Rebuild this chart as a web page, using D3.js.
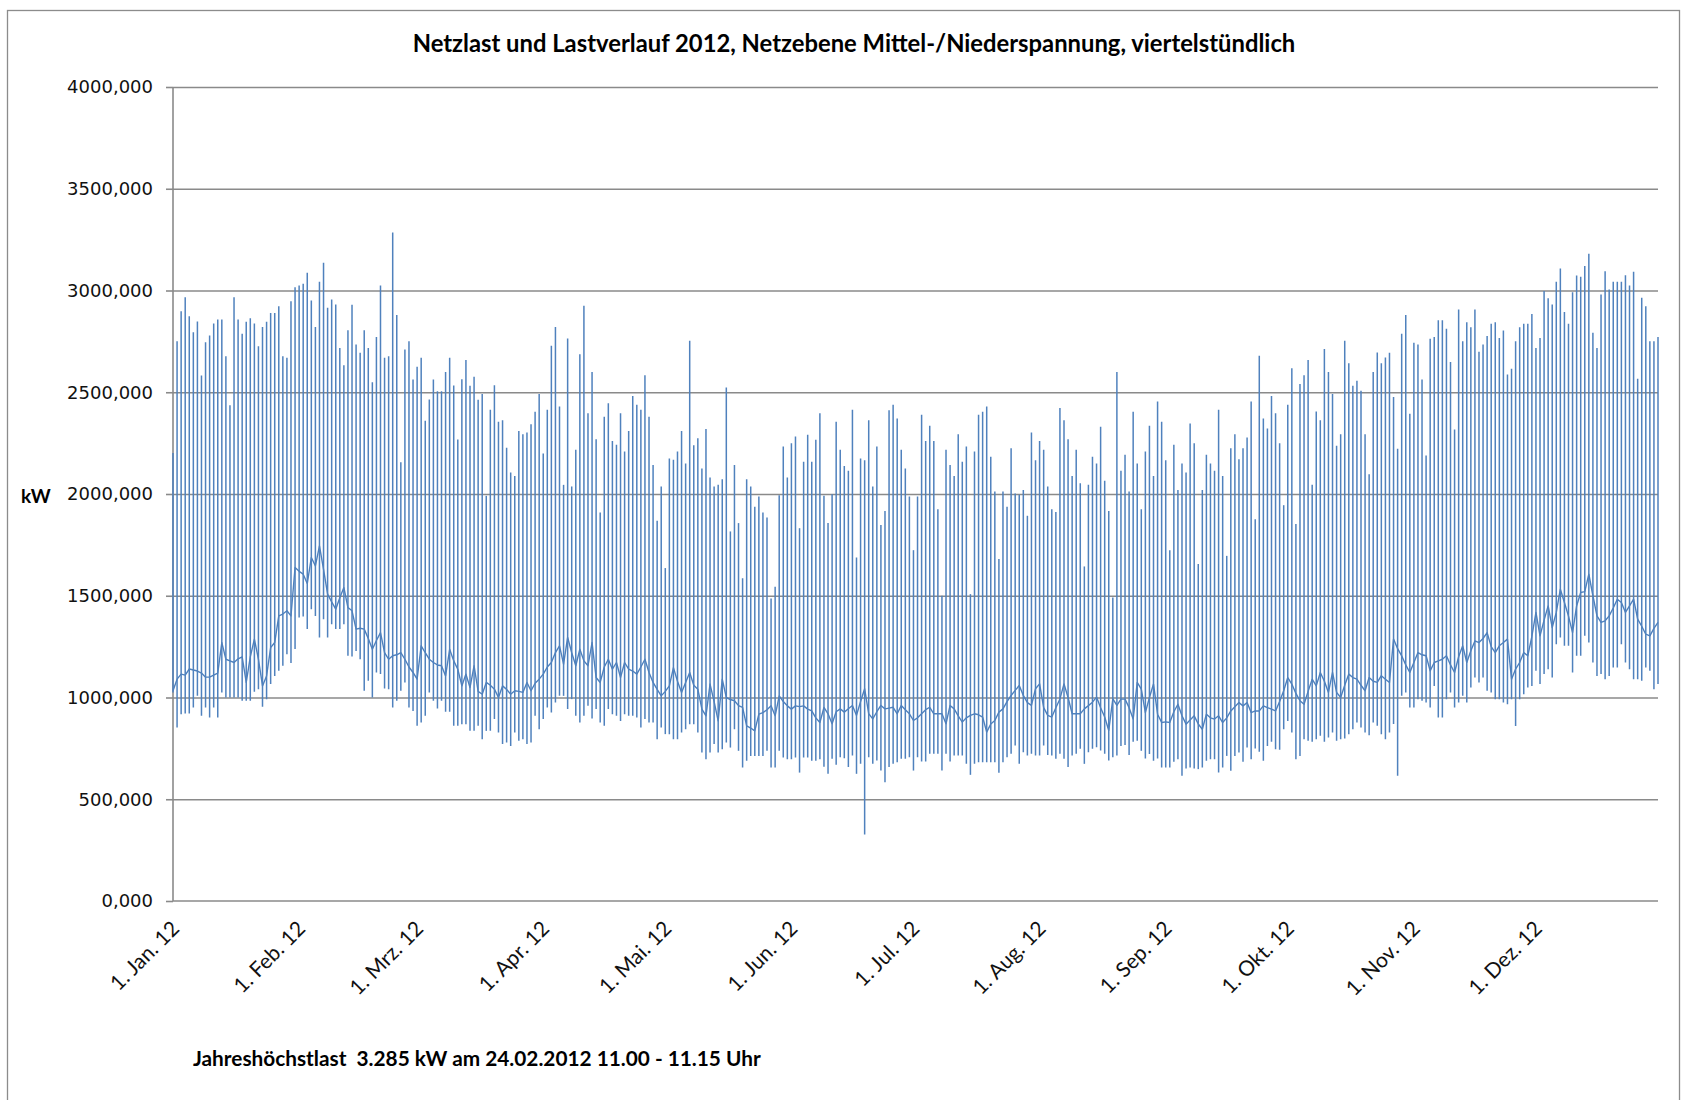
<!DOCTYPE html>
<html>
<head>
<meta charset="utf-8">
<script src="https://cdn.jsdelivr.net/npm/d3@7"></script>
<style>
  html, body { margin: 0; padding: 0; background: #ffffff; }
  svg { display: block; }
</style>
</head>
<body>
<svg id="chart" width="1686" height="1100"></svg>
<script>
// Netzlast 2012 – daily summary of the quarter-hourly load (kW)
// dailyPeak: highest quarter-hour of the day, dailyLow: lowest,
// nightLoad: level at midnight that links one day to the next.
const dailyPeak = [
  2202,2751,2898,2967,2874,2795,2848,2582,2746,2779,2838,2857,2857,2677,2436,2967,2857,2787,2846,2864,
  2838,2726,2821,2846,2890,2890,2923,2677,2669,2947,3016,3024,3033,3087,2951,2821,3043,3136,2915,2956,
  2931,2718,2633,2805,2930,2735,2694,2805,2718,2549,2771,3024,2669,2677,3285,2879,2156,2710,2751,2563,
  2625,2669,2360,2464,2563,2505,2505,2599,2669,2533,2268,2564,2659,2532,2576,2463,2491,1991,2414,2535,
  2355,2363,2227,2106,2089,2310,2294,2302,2343,2404,2491,2199,2414,2728,2821,2430,2045,2764,2037,2217,
  2687,2925,2397,2600,2269,1909,2379,2446,2261,2242,2397,2209,2310,2482,2438,2414,2584,2379,2142,1868,
  2037,1636,2174,2168,2209,2310,2150,2753,2240,2274,2125,2319,2081,2037,2045,2073,2523,1816,2142,1857,
  1586,2073,2037,1937,1988,1909,1885,1487,1544,1994,2233,2081,2250,2283,1832,2158,2291,2158,2266,2397,
  1991,1857,1999,2355,2217,2138,2114,2414,1688,2174,2166,2363,2037,2233,1848,1917,2412,2438,2371,2217,
  2125,1988,1724,1988,2389,2261,2335,2261,1925,1500,2217,2142,2089,2294,2158,2233,1508,2209,2389,2404,
  2430,2183,2012,1680,2012,1937,2225,2002,1996,2020,1893,2302,2166,2261,2217,2037,1925,1912,2422,2363,
  2269,2089,2217,2053,1644,2045,2183,2150,2330,2065,1917,1492,2600,2114,2193,2012,2404,2150,1925,2209,
  2335,2089,2455,2355,2166,1724,2242,2020,2150,2106,2346,2250,1656,2020,2193,2150,2114,2414,2089,1696,
  2225,2294,2171,2225,2278,2455,1876,2679,2371,2322,2482,2397,2250,1945,2438,2618,1852,2540,2584,2659,
  2045,2405,2363,2712,2600,2491,2237,2294,2753,2643,2532,2556,2507,2294,2097,2600,2695,2643,2671,2694,
  2477,2222,2787,2879,2394,2743,2735,2563,2189,2763,2771,2854,2854,2812,2649,2317,2907,2751,2844,2820,
  2907,2699,2735,2776,2836,2844,2767,2803,2587,2615,2751,2820,2836,2836,2885,2718,2767,2997,2962,2931,
  3043,3108,2894,2836,2992,3074,3067,3120,3180,2792,2718,2980,3095,3005,3043,3043,3043,3075,3025,3092,
  2566,2964,2923,2751,2751,2771
];

const dailyLow = [
  1025,853,918,921,921,951,1008,910,951,902,951,902,1025,1000,1000,1000,1000,984,984,984,
  1028,1041,954,992,1066,1106,1131,1156,1213,1169,1238,1393,1398,1336,1434,1401,1295,1385,1295,1360,
  1336,1336,1360,1205,1201,1229,1188,1033,1082,1000,1123,1115,1044,1041,951,984,1033,1074,951,934,
  861,877,910,1025,984,946,984,930,930,861,861,869,869,836,836,861,795,836,836,894,
  828,771,779,762,828,787,795,771,779,910,844,894,951,926,975,1008,1008,943,992,910,
  877,910,959,897,943,877,861,943,918,910,885,918,910,910,902,853,894,877,877,795,
  853,820,820,795,795,828,844,869,869,828,730,697,730,771,730,746,779,754,844,738,
  656,689,713,713,713,713,738,656,656,738,705,697,697,705,631,705,705,689,689,697,
  660,625,699,669,707,702,658,715,625,674,327,707,674,690,641,584,658,674,682,699,
  699,707,641,707,686,686,723,723,723,641,723,686,715,715,715,674,620,674,682,682,
  682,682,682,630,682,707,723,764,674,731,715,723,715,715,764,718,715,699,723,699,
  658,715,723,748,674,731,748,756,740,723,690,707,715,762,766,717,782,787,738,700,
  722,689,700,656,656,656,684,697,615,651,656,651,648,656,689,697,697,631,656,713,
  640,713,730,684,754,697,749,733,689,762,782,746,743,844,885,828,697,713,795,787,
  782,795,812,782,803,828,787,795,799,820,844,877,853,828,815,877,861,820,795,828,
  870,615,1008,1025,951,951,992,984,975,951,1057,902,902,992,1025,951,975,1008,975,1049,
  1098,1074,1098,1033,1025,992,992,975,967,992,860,992,1016,1049,1057,1131,1066,1115,1139,1098,
  1262,1295,1254,1254,1123,1205,1205,1303,1270,1172,1106,1115,1090,1106,1147,1147,1262,1172,1139,1090,
  1090,1082,1147,1131,1041,1066
];

const nightLoad = [
  1033,1090,1115,1110,1140,1135,1130,1120,1100,1100,1110,1120,1270,1188,1180,1172,1190,1200,1074,1200,
  1287,1188,1057,1106,1245,1270,1401,1410,1426,1401,1639,1620,1606,1560,1688,1647,1745,1630,1508,1470,
  1434,1490,1540,1442,1426,1336,1340,1336,1290,1237,1280,1319,1221,1188,1205,1210,1221,1188,1150,1123,
  1090,1254,1220,1188,1172,1160,1156,1106,1237,1180,1139,1057,1115,1049,1156,1030,1016,1074,1060,1041,
  1000,1057,1040,1016,1033,1030,1025,1074,1033,1070,1090,1115,1150,1172,1221,1254,1164,1295,1220,1156,
  1237,1180,1156,1270,1098,1074,1150,1188,1139,1172,1098,1172,1139,1130,1115,1150,1188,1123,1074,1040,
  1008,1030,1057,1147,1080,1025,1074,1123,1060,1041,943,910,1066,980,885,1090,1000,990,984,960,
  951,861,850,836,918,926,940,959,910,1008,980,959,943,959,955,959,943,934,900,877,
  951,920,871,930,944,928,945,961,912,980,1043,920,895,930,961,944,948,952,920,961,
  940,920,887,900,920,940,952,920,920,920,871,961,944,910,879,900,912,920,915,904,
  830,870,887,928,944,980,1010,1035,1059,1010,975,961,1043,1067,950,912,904,950,993,1067,
  1000,920,920,920,944,960,977,1002,950,904,838,993,961,992,992,950,894,1074,1041,926,
  1000,1066,918,877,880,877,930,967,910,869,890,910,870,844,918,900,894,910,877,900,
  934,955,975,959,975,926,934,934,959,950,943,934,980,1033,1098,1066,1020,984,967,1030,
  1090,1057,1123,1080,1025,1123,1025,1000,1060,1115,1098,1090,1060,1033,1098,1080,1074,1107,1090,1074,
  1287,1240,1205,1160,1123,1172,1221,1210,1205,1131,1172,1180,1188,1205,1160,1123,1200,1254,1172,1230,
  1278,1270,1290,1319,1250,1221,1254,1270,1287,1090,1140,1172,1221,1205,1300,1418,1303,1380,1450,1344,
  1418,1532,1467,1400,1319,1450,1516,1520,1606,1500,1401,1369,1377,1401,1440,1483,1467,1418,1450,1483,
  1385,1350,1311,1303,1340,1369
];

// Axis ticks
const yTickValues = [0, 500, 1000, 1500, 2000, 2500, 3000, 3500, 4000];
const yTickLabels = ["0,000", "500,000", "1000,000", "1500,000", "2000,000",
                     "2500,000", "3000,000", "3500,000", "4000,000"];
const monthLabels = ["1. Jan. 12", "1. Feb. 12", "1. Mrz. 12", "1. Apr. 12", "1. Mai. 12", "1. Jun. 12",
                     "1. Jul. 12", "1. Aug. 12", "1. Sep. 12", "1. Okt. 12", "1. Nov. 12", "1. Dez. 12"];

const titleText = "Netzlast und Lastverlauf 2012, Netzebene Mittel-/Niederspannung, viertelstündlich";
const noteText = "Jahreshöchstlast  3.285 kW am 24.02.2012 11.00 - 11.15 Uhr";
const unitText = "kW";

// One entry per calendar day of 2012
const days = d3.timeDay.range(new Date(2012, 0, 1), new Date(2013, 0, 1));
const monthStarts = d3.timeMonth.range(new Date(2012, 0, 1), new Date(2013, 0, 1));

const plot = { left: 173, right: 1658, top: 87, bottom: 901 };
const gridColor = "#8a8a8a";
const lineColor = "#4f81bd";

const svg = d3.select("#chart");

// chart frame
svg.append("rect")
  .attr("x", 7.5).attr("y", 10.5)
  .attr("width", 1672).attr("height", 1120)
  .attr("fill", "none").attr("stroke", "#8c8c8c").attr("stroke-width", 1.3);

const x = d3.scaleTime()
  .domain([days[0], days[days.length - 1]])
  .range([plot.left, plot.right]);

const y = d3.scaleLinear()
  .domain([0, 4000])
  .range([plot.bottom, plot.top]);

// horizontal gridlines
svg.append("g")
  .attr("transform", `translate(${plot.left},0)`)
  .call(d3.axisLeft(y).tickValues(yTickValues.slice(1))
    .tickSize(-(plot.right - plot.left)).tickFormat(""))
  .call(g => g.select(".domain").remove())
  .call(g => g.selectAll("line").attr("stroke", gridColor).attr("stroke-width", 1.6));

// y axis with outward ticks and labels
const yAxis = svg.append("g")
  .attr("transform", `translate(${plot.left},0)`)
  .call(d3.axisLeft(y).tickValues(yTickValues).tickSize(7).tickPadding(13)
    .tickFormat((d, i) => yTickLabels[i]));
yAxis.select(".domain").attr("stroke", gridColor).attr("stroke-width", 1.6)
  .attr("d", `M0,${plot.top}V${plot.bottom}`);
yAxis.selectAll("line").attr("stroke", gridColor).attr("stroke-width", 1.6);
yAxis.selectAll("text")
  .attr("fill", "#111")
  .style("font-family", "'DejaVu Sans', sans-serif")
  .style("font-size", "18px");

// x axis: month starts, rotated labels
const xAxis = svg.append("g")
  .attr("transform", `translate(0,${plot.bottom})`)
  .call(d3.axisBottom(x).tickValues(monthStarts).tickSize(0)
    .tickFormat((d, i) => monthLabels[i]));
xAxis.select(".domain").attr("stroke", gridColor).attr("stroke-width", 1.6)
  .attr("d", `M${plot.left},0H${plot.right}`);
xAxis.selectAll("text")
  .attr("fill", "#111")
  .attr("text-anchor", "end")
  .attr("dy", null)
  .attr("y", 0)
  .attr("transform", "translate(7,29) rotate(-45)")
  .style("font-family", "Lato, sans-serif")
  .style("font-size", "21px");

// series: one vertical stroke per day, linked at midnight
const series = svg.append("g").attr("class", "series");

series.append("path")
  .datum(nightLoad)
  .attr("fill", "none")
  .attr("stroke", lineColor)
  .attr("stroke-width", 1.4)
  .attr("stroke-linejoin", "round")
  .attr("d", d3.line().x((d, i) => x(days[i])).y(d => y(d)));

series.selectAll("line.day")
  .data(days)
  .join("line")
  .attr("class", "day")
  .attr("x1", d => x(d)).attr("x2", d => x(d))
  .attr("y1", (d, i) => y(dailyLow[i]))
  .attr("y2", (d, i) => y(dailyPeak[i]))
  .attr("stroke", lineColor)
  .attr("stroke-width", 1.5);

// texts
svg.append("text")
  .attr("x", 854).attr("y", 52)
  .attr("text-anchor", "middle")
  .style("font-family", "Lato, sans-serif")
  .style("font-weight", "bold")
  .style("font-size", "23.8px")
  .text(titleText);

svg.append("text")
  .attr("x", 21).attr("y", 503)
  .style("font-family", "Lato, sans-serif")
  .style("font-weight", "bold")
  .style("font-size", "19px")
  .text(unitText);

svg.append("text")
  .attr("x", 193).attr("y", 1066)
  .attr("xml:space", "preserve")
  .style("white-space", "pre")
  .style("font-family", "Lato, sans-serif")
  .style("font-weight", "bold")
  .style("font-size", "20.8px")
  .text(noteText);
</script>
</body>
</html>
